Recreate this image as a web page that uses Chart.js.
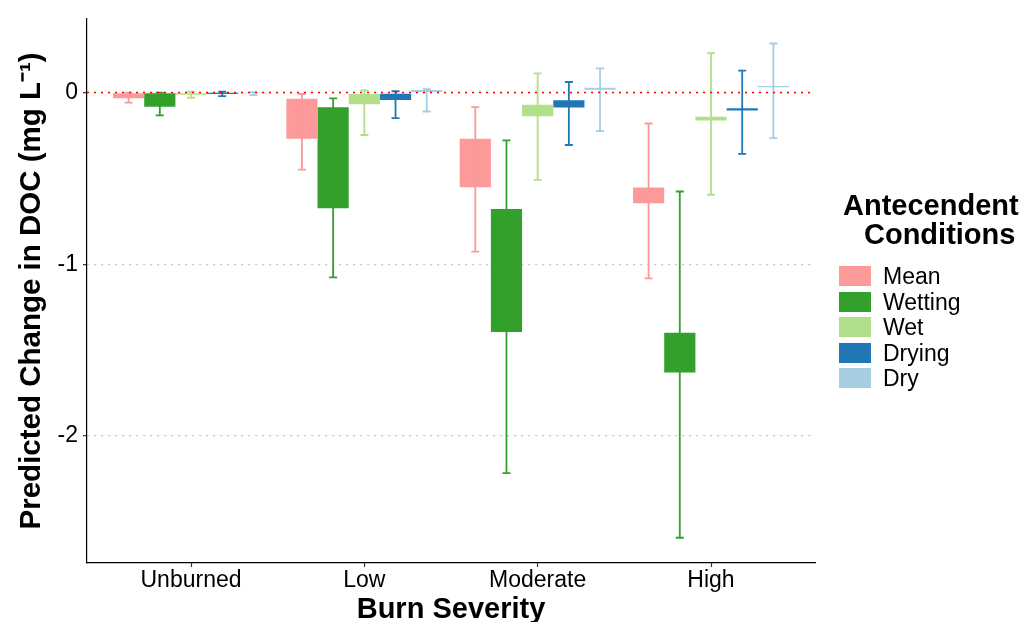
<!DOCTYPE html>
<html>
<head>
<meta charset="utf-8">
<script src="https://cdn.jsdelivr.net/npm/chart.js@4"></script>
<style>
  body { margin: 0; background: #fff; font-family: 'Liberation Sans', Arial, sans-serif; }
  #wrap { position: relative; width: 1023px; height: 622px; }
  #legend .title { position: absolute; font-weight: bold; font-size: 29px; line-height: 29px; white-space: nowrap; color: #000; }
  #legend .row { position: absolute; left: 839px; height: 20px; line-height: 20px; font-size: 23px; white-space: nowrap; color: #000; }
  #legend .key { display: inline-block; width: 32px; height: 20px; vertical-align: top; }
  #legend .lbl { position: absolute; left: 44px; top: 0; }
</style>
</head>
<body>
<div id="wrap">
  <canvas id="docChart"></canvas>
  <div id="legend">
    <div class="title" style="left:843px; top:191px;">Antecendent</div>
    <div class="title" style="left:864px; top:220px;">Conditions</div>
  </div>
</div>
<script>
const categories = ['Unburned', 'Low', 'Moderate', 'High'];
const conditions = ['Mean', 'Wetting', 'Wet', 'Drying', 'Dry'];
const colors = ['#FB9A99', '#33A02C', '#B2DF8A', '#1F78B4', '#A6CEE3'];
const yTicks = [-2, -1, 0];

// [low, high] of each box and whisker, one pair per burn severity
const meanBox = [[-0.033, 0], [-0.268, -0.035], [-0.551, -0.269], [-0.645, -0.553]];
const meanWhisker = [[-0.058, 0], [-0.448, -0.008], [-0.926, -0.085], [-1.082, -0.18]];
const wettingBox = [[-0.083, 0], [-0.674, -0.085], [-1.395, -0.678], [-1.631, -1.399]];
const wettingWhisker = [[-0.133, 0], [-1.076, -0.033], [-2.216, -0.278], [-2.593, -0.576]];
const wetBox = [[-0.012, 0], [-0.068, -0.008], [-0.137, -0.07], [-0.162, -0.141]];
const wetWhisker = [[-0.03, 0.005], [-0.247, 0.013], [-0.508, 0.112], [-0.595, 0.23]];
const dryingBox = [[-0.008, -0.001], [-0.043, -0.006], [-0.087, -0.045], [-0.104, -0.091]];
const dryingWhisker = [[-0.02, 0.005], [-0.149, 0.008], [-0.305, 0.062], [-0.357, 0.128]];
const dryBox = [[-0.004, -0.001], [0, 0.015], [0.017, 0.029], [0.032, 0.038]];
const dryWhisker = [[-0.015, 0.003], [-0.11, 0.02], [-0.224, 0.141], [-0.265, 0.286]];

const boxes = [meanBox, wettingBox, wetBox, dryingBox, dryBox];
const whiskers = [meanWhisker, wettingWhisker, wetWhisker, dryingWhisker, dryWhisker];

const fontFamily = "'Liberation Sans', Arial, sans-serif";

// legend rows
const legend = document.getElementById('legend');
conditions.forEach((name, i) => {
    const row = document.createElement('div');
    row.className = 'row';
    row.style.top = (266 + i * 25.5) + 'px';
    row.innerHTML = '<span class="key" style="background:' + colors[i] + '"></span><span class="lbl">' + name + '</span>';
    legend.appendChild(row);
});

const errorBars = {
    id: 'errorBars',
    afterDatasetsDraw(chart) {
        const ctx = chart.ctx;
        const y = chart.scales.y;
        ctx.save();
        chart.data.datasets.forEach((ds, d) => {
            const meta = chart.getDatasetMeta(d);
            meta.data.forEach((bar, i) => {
                const lo = y.getPixelForValue(whiskers[d][i][0]);
                const hi = y.getPixelForValue(whiskers[d][i][1]);
                ctx.strokeStyle = colors[d];
                ctx.lineWidth = 1.8;
                ctx.beginPath();
                ctx.moveTo(bar.x, lo);
                ctx.lineTo(bar.x, hi);
                ctx.moveTo(bar.x - 4, lo);
                ctx.lineTo(bar.x + 4, lo);
                ctx.moveTo(bar.x - 4, hi);
                ctx.lineTo(bar.x + 4, hi);
                ctx.stroke();
            });
        });
        // zero reference line
        const zero = y.getPixelForValue(0);
        ctx.strokeStyle = '#ff0000';
        ctx.lineWidth = 1.5;
        ctx.setLineDash([2, 5]);
        ctx.beginPath();
        ctx.moveTo(chart.chartArea.left, zero);
        ctx.lineTo(chart.chartArea.right, zero);
        ctx.stroke();
        ctx.restore();
    }
};

new Chart(document.getElementById('docChart'), {
    type: 'bar',
    data: {
        datasets: conditions.map((name, d) => ({
            label: name,
            data: categories.map((c, i) => ({ x: i, y: boxes[d][i] })),
            backgroundColor: colors[d],
            borderWidth: 0,
            barPercentage: 1,
            categoryPercentage: 0.9
        }))
    },
    options: {
        responsive: true,
        maintainAspectRatio: false,
        animation: false,
        layout: {
            padding: { top: 17, right: 208, left: 0, bottom: 0 }
        },
        plugins: {
            legend: { display: false },
            tooltip: { enabled: false }
        },
        scales: {
            x: {
                type: 'linear',
                min: -0.6,
                max: 3.6,
                offset: false,
                afterBuildTicks: (scale) => {
                    scale.ticks = categories.map((c, i) => ({ value: i }));
                },
                afterFit: (scale) => { scale.height = 59; },
                ticks: {
                    callback: (v) => categories[v] ?? '',
                    color: '#000',
                    padding: 0,
                    maxRotation: 0,
                    autoSkip: false,
                    font: { size: 23, family: fontFamily }
                },
                grid: {
                    offset: false,
                    drawOnChartArea: false,
                    drawTicks: true,
                    tickLength: 4,
                    tickColor: '#333',
                    tickWidth: 1.2
                },
                border: { display: true, color: '#000', width: 1.2 },
                title: {
                    display: true,
                    text: 'Burn Severity',
                    color: '#000',
                    padding: 0,
                    font: { size: 29, weight: 'bold', family: fontFamily, lineHeight: 0.85 }
                }
            },
            y: {
                min: -2.74,
                max: 0.43,
                afterBuildTicks: (scale) => {
                    scale.ticks = yTicks.map(v => ({ value: v }));
                },
                afterFit: (scale) => { scale.width = 87; },
                ticks: {
                    callback: (v) => String(v),
                    color: '#000',
                    padding: 5,
                    font: { size: 23, family: fontFamily }
                },
                grid: {
                    color: '#c4c4c4',
                    lineWidth: 1.3,
                    tickLength: 4,
                    tickColor: '#333',
                    tickWidth: 1.2
                },
                border: { display: true, color: '#000', width: 1.2, dash: [2, 5] },
                title: {
                    display: true,
                    text: 'Predicted Change in DOC (mg L\u207B\u00B9)',
                    color: '#000',
                    padding: { top: 17, bottom: 0 },
                    font: { size: 29.5, weight: 'bold', family: fontFamily, lineHeight: 1 }
                }
            }
        }
    },
    plugins: [errorBars]
});
</script>
</body>
</html>
